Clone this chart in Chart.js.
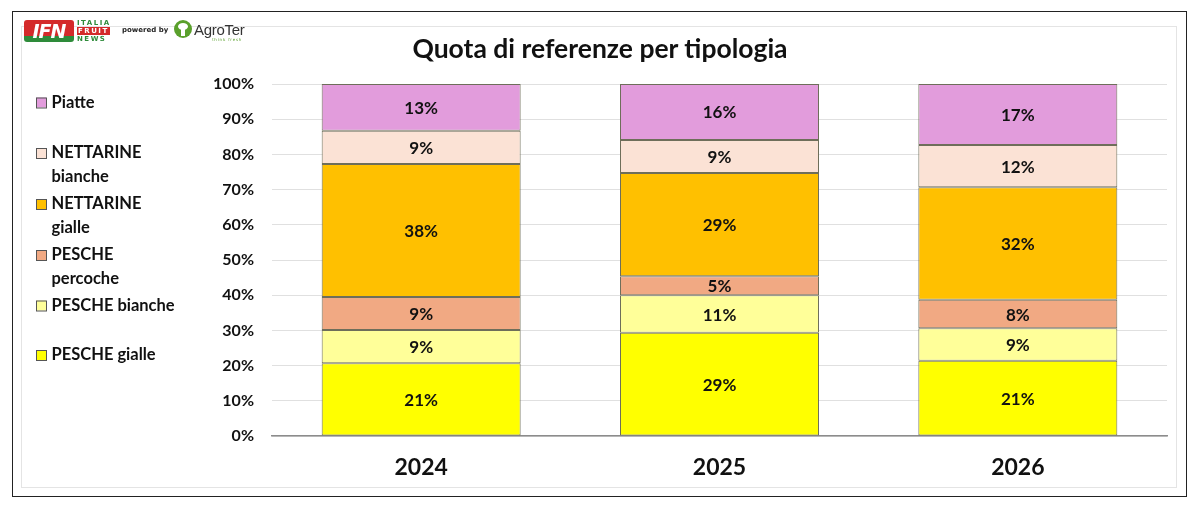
<!DOCTYPE html>
<html>
<head>
<meta charset="utf-8">
<script src="https://cdn.jsdelivr.net/npm/chart.js@4/dist/chart.umd.min.js"></script>
<style>
  html, body { margin: 0; padding: 0; background: #fff; }
  #wrap { position: relative; width: 1200px; height: 510px; overflow: hidden; background: #fff; font-family: Lato, "Open Sans", sans-serif; }
  #outer { position: absolute; left: 12px; top: 11px; width: 1173px; height: 484px; border: 1.5px solid #222; }
  #inner { position: absolute; left: 21px; top: 26px; width: 1154px; height: 460px; border: 1px solid #e4e4e4; }
  #c { position: absolute; left: 0; top: 0; }
  #title { position: absolute; left: 0; width: 1200px; top: 32px; text-align: center; font-weight: bold; font-size: 26.5px; color: #111; }
  .ifn { position: absolute; left: 24px; top: 20px; width: 50px; height: 22px; background: linear-gradient(#d42a2a 0 72%, #2e8b3a 72% 100%); border-radius: 3px; color: #fff; font: 900 19px/22px "DejaVu Sans", sans-serif; text-align: center; letter-spacing: -1px; font-style: italic; }
  .ifn2 { position: absolute; left: 77px; top: 19px; font: bold 7px/8px "DejaVu Sans", sans-serif; letter-spacing: 1.5px; color: #2e8b3a; }
  .ifn2 .f { background: #d42a2a; color: #fff; display: inline-block; padding: 0 1px; }
  .pow { position: absolute; left: 122px; top: 26px; font: bold 7px "DejaVu Sans", sans-serif; color: #222; }
  .agro-c { position: absolute; left: 174px; top: 20px; width: 18px; height: 18px; border-radius: 50%; background: #5aa02c; }
  .agro-c::after { content: ""; position: absolute; left: 7px; top: 8px; width: 4px; height: 8px; background: #fff; }
  .agro-c::before { content: ""; position: absolute; left: 4px; top: 3px; width: 10px; height: 7px; background: #fff; border-radius: 50%; }
  .agro { position: absolute; left: 194px; top: 21px; font: 15px "Liberation Sans", sans-serif; color: #333; letter-spacing: -0.3px; }
  .agro-s { position: absolute; left: 212px; top: 37px; font: 4px "DejaVu Sans", sans-serif; color: #5aa02c; letter-spacing: 0.8px; }
</style>
</head>
<body>
<div id="wrap">
  <div id="outer"></div>
  <div id="inner"></div>
  <canvas id="c" width="1200" height="510"></canvas>
  <div id="title">Quota di referenze per tipologia</div>
  <div class="ifn">IFN</div>
  <div class="ifn2">ITALIA<br><span class="f">FRUIT</span><br>NEWS</div>
  <div class="pow">powered by</div>
  <div class="agro-c"></div>
  <div class="agro">AgroTer</div>
  <div class="agro-s">think fresh</div>
</div>
<script>
const categories = ["2024", "2025", "2026"];
const seriesNames = ["PESCHE gialle", "PESCHE bianche", "PESCHE percoche", "NETTARINE gialle", "NETTARINE bianche", "Piatte"];
const legendLines = [["PESCHE gialle"], ["PESCHE bianche"], ["PESCHE", "percoche"], ["NETTARINE", "gialle"], ["NETTARINE", "bianche"], ["Piatte"]];
const pescheGialle    = [20.7, 29.3, 21.4];
const pescheBianche   = [9.4, 10.7, 9.2];
const peschePercoche  = [9.4, 5.4, 8.1];
const nettarineGialle = [37.8, 29.3, 32.0];
const nettarineBianche= [9.4, 9.4, 12.0];
const piatte          = [13.3, 15.9, 17.3];
const yTicks = [0, 10, 20, 30, 40, 50, 60, 70, 80, 90, 100];

const seriesValues = [pescheGialle, pescheBianche, peschePercoche, nettarineGialle, nettarineBianche, piatte];
const colors = ["#FFFF00", "#FFFF99", "#F1A983", "#FFC000", "#FBE2D5", "#E29CDC"];
const FONT = "Lato, 'Open Sans', sans-serif";

const datasets = seriesNames.map((n, i) => ({
  label: n,
  data: seriesValues[i],
  backgroundColor: colors[i],
  borderColor: "#6e6e5a",
  borderWidth: 1,
  borderSkipped: false,
  barPercentage: 0.667,
  categoryPercentage: 1.0
}));

const labelPlugin = {
  id: "segLabels",
  afterDatasetsDraw(chart) {
    const ctx = chart.ctx;
    ctx.save();
    ctx.font = "bold 17px " + FONT;
    ctx.fillStyle = "#111";
    ctx.textAlign = "center";
    ctx.textBaseline = "middle";
    chart.data.datasets.forEach((ds, di) => {
      const meta = chart.getDatasetMeta(di);
      meta.data.forEach((el, i) => {
        const v = ds.data[i];
        ctx.fillText(Math.round(v) + "%", el.x, (el.y + el.base) / 2 + 1);
      });
    });
    ctx.restore();
  }
};

const legendPlugin = {
  id: "sideLegend",
  afterDraw(chart) {
    const ctx = chart.ctx;
    ctx.save();
    ctx.font = "bold 16.5px " + FONT;
    ctx.textBaseline = "middle";
    ctx.textAlign = "left";
    const firstY = [355, 305.5, 255, 204, 153, 102.5];
    legendLines.forEach((lines, i) => {
      const y0 = firstY[i];
      ctx.fillStyle = colors[i];
      ctx.fillRect(36, y0 - 5, 10, 10);
      ctx.strokeStyle = "#555";
      ctx.lineWidth = 1;
      ctx.strokeRect(36.5, y0 - 4.5, 10, 10);
      ctx.fillStyle = "#111";
      lines.forEach((t, k) => ctx.fillText(t, 51.5, y0 + k * 23.5));
    });
    ctx.restore();
  }
};

new Chart(document.getElementById("c"), {
  type: "bar",
  data: { labels: categories, datasets },
  options: {
    responsive: false,
    animation: false,
    devicePixelRatio: 1,
    layout: { padding: { left: 0, right: 33, top: 84, bottom: 0 } },
    plugins: { legend: { display: false }, tooltip: { enabled: false } },
    scales: {
      x: {
        stacked: true,
        grid: { display: false, drawTicks: false },
        border: { display: true, color: "#8c8c8c", width: 1.5 },
        ticks: { color: "#111", font: { family: FONT, size: 23, weight: "bold" }, padding: 18 },
        afterFit(s) { s.height = 74; }
      },
      y: {
        stacked: true,
        min: 0, max: 100,
        afterBuildTicks(s) { s.ticks = yTicks.map(v => ({ value: v })); },
        grid: { color: "#e0e0e0", lineWidth: 1, drawTicks: false },
        border: { display: false },
        ticks: { color: "#111", font: { family: FONT, size: 16, weight: "bold" }, padding: 18, callback: v => v + "%" },
        afterFit(s) { s.width = 272; }
      }
    }
  },
  plugins: [labelPlugin, legendPlugin]
});
</script>
</body>
</html>
